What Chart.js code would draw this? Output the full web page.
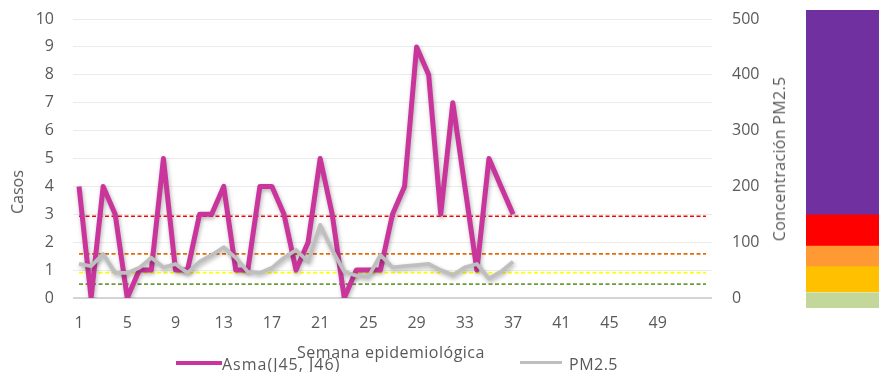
<!DOCTYPE html>
<html><head><meta charset="utf-8">
<script src="https://cdn.jsdelivr.net/npm/chart.js@4/dist/chart.umd.min.js"></script>
<style>
html,body{margin:0;padding:0;background:#fff;}
#wrap{position:relative;width:879px;height:372px;overflow:hidden;font-family:"Open Sans",sans-serif;color:#595959;}
#main{position:absolute;left:0;top:0;}
#band{position:absolute;left:800px;top:0;}
.t{position:absolute;white-space:nowrap;font-size:16px;line-height:1;transform:translate(-50%,-50%);}
.r{transform:translate(-50%,-50%) rotate(-90deg);}
.l{position:absolute;white-space:nowrap;font-size:16px;line-height:1;transform:translateY(-50%);}
.sw{position:absolute;}
</style></head><body>
<div id="wrap">
<canvas id="main" width="800" height="372"></canvas>
<canvas id="band" width="79" height="372"></canvas>
<div class="t r" style="left:17px;top:192px;">Casos</div>
<div class="t r" style="left:779px;top:159px;letter-spacing:0.3px;">Concentración PM2.5</div>
<div class="t" style="left:391px;top:352px;letter-spacing:0.5px;">Semana epidemiológica</div>
<div class="sw" style="left:176px;top:361px;width:46px;height:4px;background:#C9359B;"></div>
<div class="l" style="left:222px;top:364px;letter-spacing:1px;">Asma(J45, J46)</div>
<div class="sw" style="left:520px;top:361px;width:42px;height:3px;background:#BFBFBF;"></div>
<div class="l" style="left:569px;top:364px;letter-spacing:0.5px;">PM2.5</div>
</div>
<script>
// ---- data ----
const weeks = ['1','2','3','4','5','6','7','8','9','10','11','12','13','14','15','16','17','18','19','20',
  '21','22','23','24','25','26','27','28','29','30','31','32','33','34','35','36','37','38','39','40',
  '41','42','43','44','45','46','47','48','49','50','51','52','53'];
const asma = [4,0,4,3,0,1,1,5,1,1,3,3,4,1,1,4,4,3,1,2,5,3,0,1,1,1,3,4,9,8,3,7,4,1,5,4,3];
const pm25 = [61,57,79,45,45,54,72,55,61,45,65,77,91,72,47,45,54,72,86,65,131,86,47,40,38,77,55,57,59,61,50,41,55,61,35,47,65];
const thresholdNames = ['Verde','Amarillo','Naranja','Rojo'];
const thresholdValues = [25, 45.5, 79, 146.5];
const thresholdColors = ['#6E9A3C','#FFFF00','#E36C0A','#FF0000'];
const leftTicks = [0,1,2,3,4,5,6,7,8,9,10];
const rightTicks = [0,100,200,300,400,500];
const bandNames = ['Buena','Moderada','Dañina grupos sensibles','Dañina','Muy dañina'];
const bandRanges = [[-18,9],[11,56],[56,93],[93,149],[149,516]];
const bandColors = ['#C4D79B','#FFC000','#FF9933','#FF0000','#7030A0'];

const FONT = {family:'"Open Sans", sans-serif', size:16};
const GREY = '#595959';

const shadow = {
  id:'shadow',
  beforeDatasetDraw(chart,args){
    const ds = chart.data.datasets[args.index];
    if(ds.shadow){const c=chart.ctx;c.save();c.shadowColor='rgba(0,0,0,0.3)';c.shadowBlur=4;c.shadowOffsetX=1;c.shadowOffsetY=2;}
  },
  afterDatasetDraw(chart,args){
    if(chart.data.datasets[args.index].shadow) chart.ctx.restore();
  }
};

const datasets = [
  {label:'PM2.5', data:pm25, yAxisID:'y1', borderColor:'#BFBFBF', borderWidth:3.8, borderJoinStyle:'round', pointRadius:0, tension:0, order:0, shadow:true},
  {label:'Asma(J45, J46)', data:asma, yAxisID:'y', borderColor:'#C9359B', borderWidth:5, borderJoinStyle:'round', pointRadius:0, tension:0, order:1, shadow:true}
];
thresholdValues.forEach((v,i)=>{
  datasets.push({label:thresholdNames[i], data:[{x:weeks[0],y:v},{x:weeks[weeks.length-1],y:v}], yAxisID:'y1',
    borderColor:thresholdColors[i], borderWidth:1.7, borderDash:[4,2.5], pointRadius:0, order:2});
});

function fitV(w){ return function(s){ s.width = w; s.paddingTop = 8; s.paddingBottom = 8; }; }

new Chart(document.getElementById('main'), {
  type:'line',
  data:{labels:weeks, datasets},
  plugins:[shadow],
  options:{
    responsive:false, animation:false, devicePixelRatio:1,
    layout:{padding:{top:19,left:0,right:0,bottom:0}},
    plugins:{legend:{display:false}, tooltip:{enabled:false}},
    scales:{
      x:{
        type:'category', offset:true,
        grid:{display:false}, border:{display:false},
        ticks:{autoSkip:false, maxRotation:0, padding:8, color:GREY, font:FONT,
          callback(value,index){ return (index%4===0 && index<52) ? weeks[index] : ''; }},
        afterFit(s){ s.height = 74; }
      },
      y:{
        position:'left', min:0, max:10,
        afterBuildTicks(s){ s.ticks = leftTicks.map(v=>({value:v})); },
        grid:{color(c){return c.tick && c.tick.value===0 ? '#D4D4D4' : '#EBEBEB';}, lineWidth(c){return c.tick && c.tick.value===0 ? 2 : 1;}, drawTicks:false},
        border:{display:false},
        ticks:{padding:19, color:GREY, font:FONT},
        afterFit: fitV(73)
      },
      y1:{
        position:'right', min:0, max:500,
        afterBuildTicks(s){ s.ticks = rightTicks.map(v=>({value:v})); },
        grid:{display:false, drawTicks:false}, border:{display:false},
        ticks:{padding:20, color:GREY, font:FONT},
        afterFit: fitV(88)
      }
    }
  }
});

new Chart(document.getElementById('band'), {
  type:'bar',
  data:{labels:['ICA'], datasets: bandRanges.map((r,i)=>({label:bandNames[i], data:[r], backgroundColor:bandColors[i], borderWidth:0, grouped:false, barPercentage:1, categoryPercentage:1}))},
  options:{
    responsive:false, animation:false, devicePixelRatio:1,
    layout:{padding:{top:10,left:6,right:0,bottom:64}},
    plugins:{legend:{display:false}, tooltip:{enabled:false}},
    scales:{
      x:{display:false},
      y:{display:false, min:-18, max:516}
    }
  }
});
</script>
</body></html>
